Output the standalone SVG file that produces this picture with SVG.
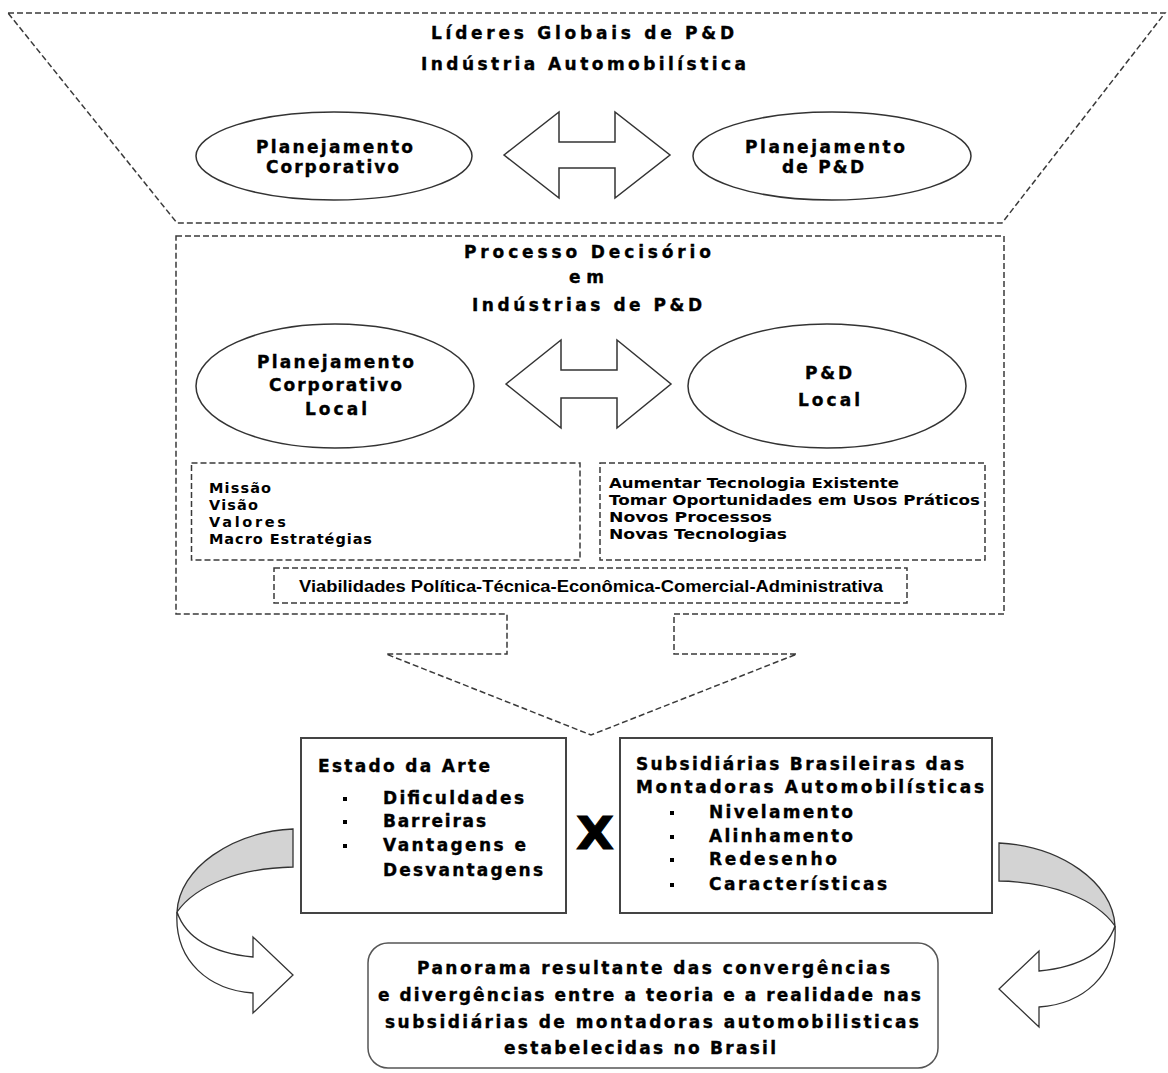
<svg xmlns="http://www.w3.org/2000/svg" width="1168" height="1073" viewBox="0 0 1168 1073">
  <style>
    .dash{fill:none;stroke:#3a3a3a;stroke-width:1.5;stroke-dasharray:6 3}
    .shape{fill:#fff;stroke:#333;stroke-width:1.5}
    .box{fill:#fff;stroke:#444;stroke-width:2}
    .band{fill:#d3d3d3;stroke:#333;stroke-width:1.3}
    .rib{fill:#fff;stroke:#333;stroke-width:1.3}
    .hv{font-family:"DejaVu Sans","Liberation Sans",sans-serif;font-weight:bold;font-size:17px;fill:#000;stroke:#000;stroke-width:0.35}
    .md{font-family:"DejaVu Sans","Liberation Sans",sans-serif;font-weight:bold;font-size:14.5px;fill:#000}
    .nr{font-family:"Liberation Sans",Arial,sans-serif;font-weight:bold;font-size:16px;fill:#000}
    .bul{fill:#000}
  </style>

  <!-- global leaders funnel -->
  <g id="global-leaders">
    <path class="dash" d="M8,13 H1165 L1002,223 H177 Z"/>
    <text class="hv" x="431" y="39" textLength="303" lengthAdjust="spacing">Líderes Globais de P&amp;D</text>
    <text class="hv" x="421" y="70" textLength="325" lengthAdjust="spacing">Indústria Automobilística</text>
  </g>

  <g id="corporate-planning">
    <ellipse class="shape" cx="334" cy="156" rx="138" ry="44"/>
    <text class="hv" x="256" y="153" textLength="157" lengthAdjust="spacing">Planejamento</text>
    <text class="hv" x="266" y="173" textLength="133" lengthAdjust="spacing">Corporativo</text>
  </g>

  <g id="rd-planning">
    <ellipse class="shape" cx="832" cy="156" rx="139" ry="44"/>
    <text class="hv" x="745" y="153" textLength="160" lengthAdjust="spacing">Planejamento</text>
    <text class="hv" x="782" y="173" textLength="82" lengthAdjust="spacing">de P&amp;D</text>
  </g>

  <!-- local decision process frame (with down arrow outlet) -->
  <g id="decision-process">
    <path class="dash" d="M176,236 H1004 V614 H674 V654 H797 L591,735 L386,654 H507 V614 H176 Z"/>
    <text class="hv" x="464" y="258" textLength="247" lengthAdjust="spacing">Processo Decisório</text>
    <text class="hv" x="569" y="283" textLength="35" lengthAdjust="spacing">em</text>
    <text class="hv" x="472" y="311" textLength="230" lengthAdjust="spacing">Indústrias de P&amp;D</text>
  </g>

  <g id="local-corporate-planning">
    <ellipse class="shape" cx="335" cy="386" rx="139" ry="62"/>
    <text class="hv" x="257" y="368" textLength="157" lengthAdjust="spacing">Planejamento</text>
    <text class="hv" x="269" y="391" textLength="133" lengthAdjust="spacing">Corporativo</text>
    <text class="hv" x="305" y="415" textLength="62" lengthAdjust="spacing">Local</text>
  </g>

  <g id="local-rd">
    <ellipse class="shape" cx="827" cy="386" rx="139" ry="62"/>
    <text class="hv" x="805" y="379" textLength="47" lengthAdjust="spacing">P&amp;D</text>
    <text class="hv" x="798" y="406" textLength="62" lengthAdjust="spacing">Local</text>
  </g>

  <g id="corporate-items">
    <rect class="dash" x="191.5" y="463" width="388.5" height="97"/>
    <text class="md" x="209" y="493" textLength="62" lengthAdjust="spacing">Missão</text>
    <text class="md" x="209" y="510" textLength="49" lengthAdjust="spacing">Visão</text>
    <text class="md" x="209" y="527" textLength="77" lengthAdjust="spacing">Valores</text>
    <text class="md" x="209" y="544" textLength="163" lengthAdjust="spacing">Macro Estratégias</text>
  </g>

  <g id="rd-items">
    <rect class="dash" x="600" y="463" width="385" height="97"/>
    <text class="md" x="609" y="488" textLength="290" lengthAdjust="spacingAndGlyphs">Aumentar Tecnologia Existente</text>
    <text class="md" x="609" y="505" textLength="371" lengthAdjust="spacingAndGlyphs">Tomar Oportunidades em Usos Práticos</text>
    <text class="md" x="609" y="522" textLength="163" lengthAdjust="spacingAndGlyphs">Novos Processos</text>
    <text class="md" x="609" y="539" textLength="178" lengthAdjust="spacingAndGlyphs">Novas Tecnologias</text>
  </g>

  <g id="feasibility">
    <rect class="dash" x="274" y="568" width="633" height="35"/>
    <text class="nr" x="299" y="592" textLength="584" lengthAdjust="spacingAndGlyphs">Viabilidades Política-Técnica-Econômica-Comercial-Administrativa</text>
  </g>

  <g id="state-of-art">
    <rect class="box" x="301" y="738" width="265" height="175"/>
    <text class="hv" x="318" y="772" textLength="172" lengthAdjust="spacing">Estado da Arte</text>
    <rect class="bul" x="343" y="797" width="4" height="4"/>
    <rect class="bul" x="343" y="820" width="4" height="4"/>
    <rect class="bul" x="343" y="844" width="4" height="4"/>
    <text class="hv" x="383" y="804" textLength="141" lengthAdjust="spacing">Dificuldades</text>
    <text class="hv" x="383" y="827" textLength="103" lengthAdjust="spacing">Barreiras</text>
    <text class="hv" x="383" y="851" textLength="143" lengthAdjust="spacing">Vantagens e</text>
    <text class="hv" x="383" y="876" textLength="160" lengthAdjust="spacing">Desvantagens</text>
  </g>

  <g id="versus">
    <text class="hv" x="576" y="849" textLength="38" lengthAdjust="spacingAndGlyphs" style="font-size:44px;stroke-width:1">X</text>
  </g>

  <g id="brazilian-subsidiaries">
    <rect class="box" x="620" y="738" width="372" height="175"/>
    <text class="hv" x="636" y="770" textLength="328" lengthAdjust="spacing">Subsidiárias  Brasileiras das</text>
    <text class="hv" x="636" y="793" textLength="348" lengthAdjust="spacing">Montadoras Automobilísticas</text>
    <rect class="bul" x="670" y="811" width="4" height="4"/>
    <rect class="bul" x="670" y="835" width="4" height="4"/>
    <rect class="bul" x="670" y="858" width="4" height="4"/>
    <rect class="bul" x="670" y="883" width="4" height="4"/>
    <text class="hv" x="709" y="818" textLength="144" lengthAdjust="spacing">Nivelamento</text>
    <text class="hv" x="709" y="842" textLength="144" lengthAdjust="spacing">Alinhamento</text>
    <text class="hv" x="709" y="865" textLength="128" lengthAdjust="spacing">Redesenho</text>
    <text class="hv" x="709" y="890" textLength="178" lengthAdjust="spacing">Características</text>
  </g>

  <g id="outcome">
    <rect x="368" y="943" width="570" height="125" rx="20" ry="20" fill="#fff" stroke="#555" stroke-width="1.5"/>
    <text class="hv" x="417" y="974" textLength="473" lengthAdjust="spacing">Panorama resultante das convergências</text>
    <text class="hv" x="378" y="1001" textLength="543" lengthAdjust="spacing">e divergências entre a teoria e a realidade nas</text>
    <text class="hv" x="385" y="1028" textLength="534" lengthAdjust="spacing">subsidiárias de montadoras automobilisticas</text>
    <text class="hv" x="504" y="1054" textLength="272" lengthAdjust="spacing">estabelecidas no Brasil</text>
  </g>

  <!-- connectors: double-headed block arrows and curved ribbon arrows -->
  <g id="connectors">
    <path class="shape" stroke-width="1.2" d="M504,155 L559,112 V142 H615 V112 L670,155 L615,198 V168 H559 V198 Z"/>
    <path class="shape" stroke-width="1.2" d="M506,384 L561,340 V370 H617 V340 L671,384 L617,428 V398 H561 V428 Z"/>
    <g id="curve-left">
      <path class="band" d="M293,829 C232,832 179,868 177,912 C196,885 240,868 293,867 Z"/>
      <path class="rib" d="M177,912 C174,962 210,990 253,993 L253,1013 L293,975 L253,937 L253,957 C212,953 186,938 177,912 Z"/>
    </g>
    <g id="curve-right" transform="translate(1292,14) scale(-1,1)">
      <path class="band" d="M293,829 C232,832 179,868 177,912 C196,885 240,868 293,867 Z"/>
      <path class="rib" d="M177,912 C174,962 210,990 253,993 L253,1013 L293,975 L253,937 L253,957 C212,953 186,938 177,912 Z"/>
    </g>
  </g>
</svg>
